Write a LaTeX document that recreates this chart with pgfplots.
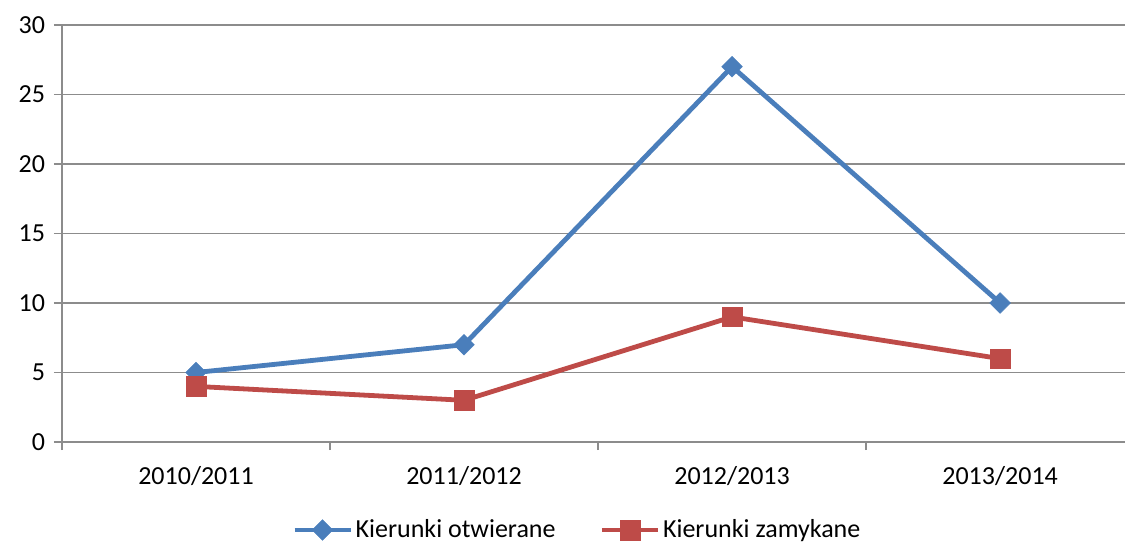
\documentclass[border=0pt]{standalone}
\usepackage{fontspec}
\setmainfont{Carlito}
\usepackage{pgfplots}
\pgfplotsset{compat=1.18}
\definecolor{cblue}{HTML}{4A7EBB}
\definecolor{cred}{HTML}{BE4B48}
\definecolor{cgrid}{HTML}{8C8C8C}
\begin{document}
\fontsize{19.5pt}{23pt}\selectfont
\begin{tikzpicture}
\useasboundingbox (0,0) rectangle (843.75pt,408pt);
\begin{axis}[
  at={(46.5pt,76.5pt)}, anchor=south west,
  scale only axis, width=797.25pt, height=312.75pt,
  xmin=-0.5, xmax=3.466, ymin=0, ymax=30,
  axis x line=bottom, axis y line=left,
  axis line style={-, draw=cgrid, line width=1.3pt},
  xtick={0,1,2,3},
  xticklabels={2010/2011,2011/2012,2012/2013,2013/2014},
  minor xtick={-0.5,0.5,1.5,2.5,3.5},
  major x tick style={draw=none},
  minor x tick style={draw=cgrid, line width=1.3pt},
  ytick={0,5,...,30},
  major y tick style={draw=cgrid, line width=1.3pt},
  tick align=outside,
  major tick length=6pt, minor tick length=6pt,
  ymajorgrids, grid style={draw=cgrid, line width=1.3pt},
  /pgf/number format/assume math mode=true,
  ticklabel style={font=\fontsize{19.5pt}{23pt}\selectfont},
  xticklabel style={yshift=-6pt},
  clip=false,
  legend columns=2,
  legend style={at={(0.485,-0.211)}, anchor=center, draw=none, fill=none,
    font=\fontsize{19.5pt}{23pt}\selectfont, /tikz/every even column/.append style={column sep=31pt},
    inner sep=0pt},
  legend image code/.code={\draw[mark repeat=2,mark phase=2,#1] plot coordinates {(0pt,0pt)(21pt,0pt)(42pt,0pt)};},
]
\addplot[cblue, line width=3.6pt, mark=square*, mark size=5.5pt, mark options={rotate=45, solid, line width=0.3pt, fill=cblue}]
  coordinates {(0,5) (1,7) (2,27) (3,10)};
\addlegendentry{Kierunki otwierane}
\addplot[cred, line width=3.6pt, mark=square*, mark size=7.3pt, mark options={solid, line width=0.3pt, fill=cred}]
  coordinates {(0,4) (1,3) (2,9) (3,6)};
\addlegendentry{Kierunki zamykane}
\end{axis}
\end{tikzpicture}
\end{document}
